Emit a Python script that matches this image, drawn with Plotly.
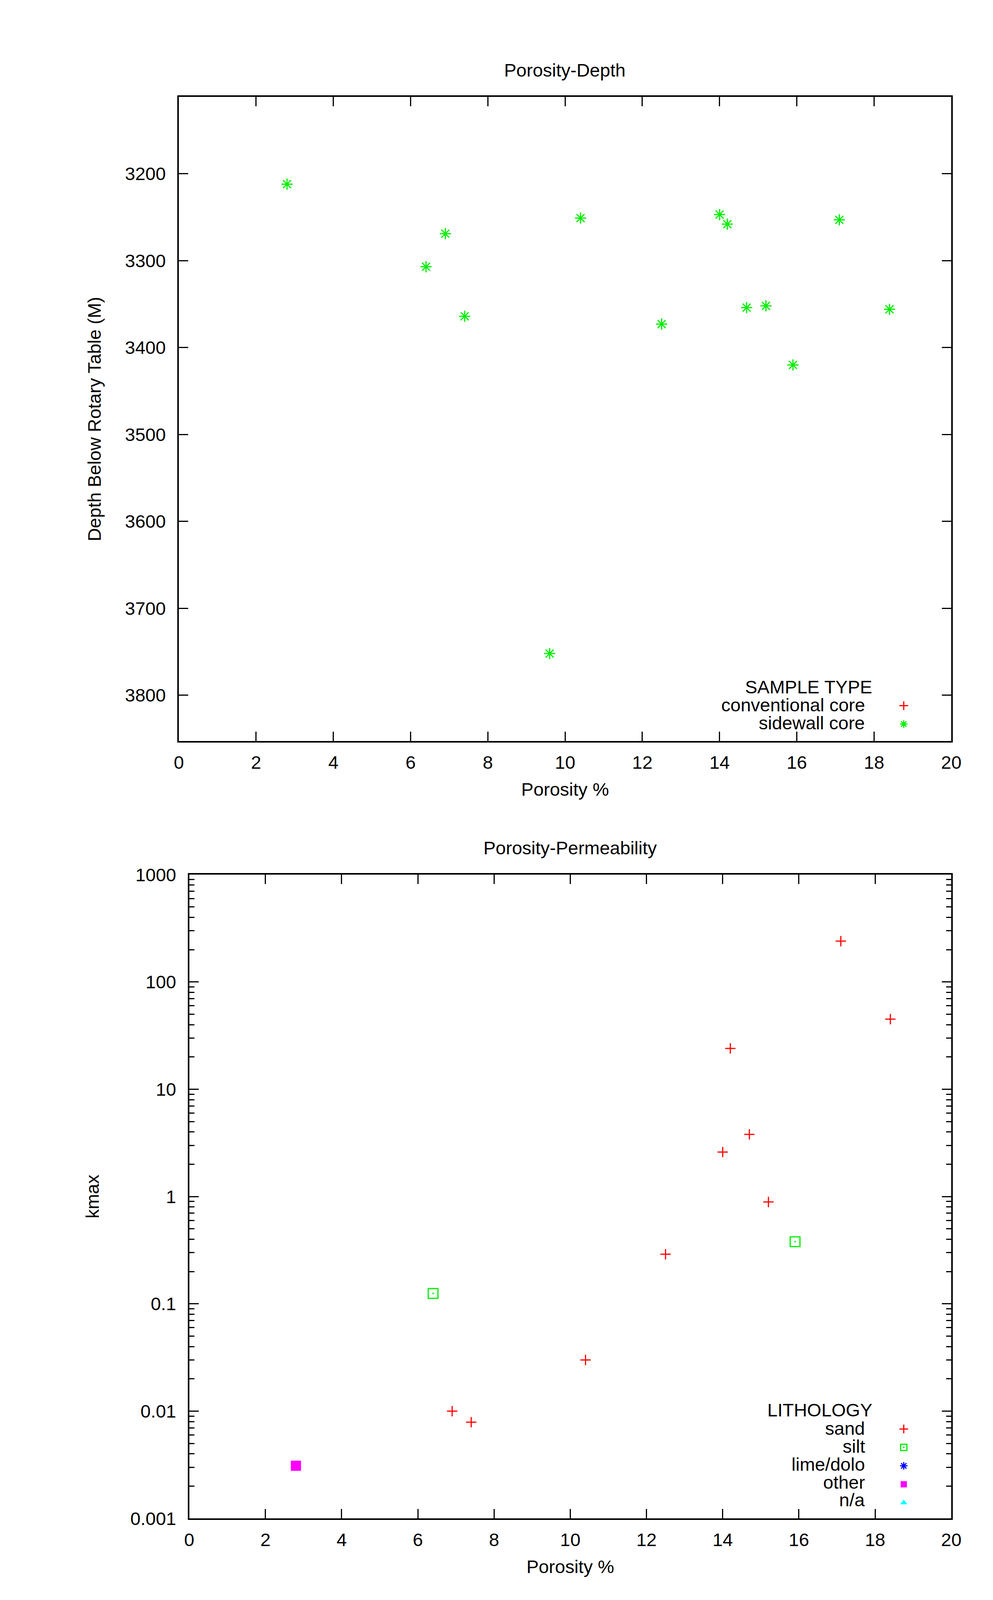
import plotly.graph_objects as go

# ---------------- data ----------------
# Porosity-Depth (sample type)
sidewall_porosity = [2.8, 6.4, 6.9, 7.4, 9.6, 10.4, 12.5, 14.0, 14.2, 14.7, 15.2, 15.9, 17.1, 18.4]
sidewall_depth = [3212, 3307, 3269, 3364, 3752, 3251, 3373, 3247, 3258, 3354, 3352, 3420, 3253, 3356]
conventional_porosity = [None]
conventional_depth = [None]

# Porosity-Permeability (lithology)
sand_porosity = [6.9, 7.4, 10.4, 12.5, 14.0, 14.2, 14.7, 15.2, 17.1, 18.4]
sand_kmax = [0.010, 0.0079, 0.030, 0.29, 2.6, 24.0, 3.8, 0.89, 240.0, 45.0]
silt_porosity = [6.4, 15.9]
silt_kmax = [0.125, 0.38]
lime_porosity = [None]
lime_kmax = [None]
other_porosity = [2.8]
other_kmax = [0.0031]
na_porosity = [None]
na_kmax = [None]

porosity_ticks = [0, 2, 4, 6, 8, 10, 12, 14, 16, 18, 20]
depth_ticks = [3200, 3300, 3400, 3500, 3600, 3700, 3800]
kmax_ticks = [0.001, 0.01, 0.1, 1, 10, 100, 1000]
kmax_labels = ["0.001", "0.01", "0.1", "1", "10", "100", "1000"]

# ---------------- page geometry ----------------
W, H = 2543, 4254
FONT = "Liberation Sans, Arial, sans-serif"
FS = 47

def px(x):
    return x / W

def py(y):
    return 1 - y / H

RED, GREEN, BLUE, MAGENTA, CYAN = "#ff0000", "#00ee00", "#0000ff", "#ff00ff", "#00ffff"

fig = go.Figure()

fig.add_trace(go.Scatter(x=conventional_porosity, y=conventional_depth, mode="markers", name=" ",
                         legend="legend", xaxis="x", yaxis="y",
                         hovertemplate="conventional core<extra></extra>",
                         marker=dict(symbol="cross-thin-open", size=19, color=RED,
                                     line=dict(color=RED, width=3))))
fig.add_trace(go.Scatter(x=sidewall_porosity, y=sidewall_depth, mode="markers", name=" ",
                         legend="legend", xaxis="x", yaxis="y",
                         hovertemplate="sidewall core<br>%{x}, %{y}<extra></extra>",
                         marker=dict(symbol="asterisk-open", size=24, color=GREEN,
                                     line=dict(color=GREEN, width=3))))

fig.add_trace(go.Scatter(x=sand_porosity, y=sand_kmax, mode="markers", name=" ",
                         legend="legend2", xaxis="x2", yaxis="y2",
                         hovertemplate="sand<br>%{x}, %{y}<extra></extra>",
                         marker=dict(symbol="cross-thin-open", size=19, color=RED,
                                     line=dict(color=RED, width=3))))
fig.add_trace(go.Scatter(x=silt_porosity, y=silt_kmax, mode="markers", name=" ",
                         legend="legend2", xaxis="x2", yaxis="y2",
                         hovertemplate="silt<br>%{x}, %{y}<extra></extra>",
                         marker=dict(symbol="square-open-dot", size=25, color=GREEN,
                                     line=dict(color=GREEN, width=3))))
fig.add_trace(go.Scatter(x=lime_porosity, y=lime_kmax, mode="markers", name=" ",
                         legend="legend2", xaxis="x2", yaxis="y2",
                         hovertemplate="lime/dolo<extra></extra>",
                         marker=dict(symbol="asterisk-open", size=24, color=BLUE,
                                     line=dict(color=BLUE, width=3))))
fig.add_trace(go.Scatter(x=other_porosity, y=other_kmax, mode="markers", name=" ",
                         legend="legend2", xaxis="x2", yaxis="y2",
                         hovertemplate="other<br>%{x}, %{y}<extra></extra>",
                         marker=dict(symbol="square", size=26, color=MAGENTA,
                                     line=dict(width=0))))
fig.add_trace(go.Scatter(x=na_porosity, y=na_kmax, mode="markers", name=" ",
                         legend="legend2", xaxis="x2", yaxis="y2",
                         hovertemplate="n/a<extra></extra>",
                         marker=dict(symbol="triangle-up", size=24, color=CYAN,
                                     line=dict(width=0))))

axis_common = dict(showline=True, linewidth=4, linecolor="black", mirror="allticks",
                   ticks="inside", ticklen=24, tickwidth=3, tickcolor="black",
                   showgrid=False, zeroline=False,
                   tickfont=dict(family=FONT, size=FS, color="black"))

fig.update_layout(
    width=W, height=H, margin=dict(l=0, r=0, t=0, b=0),
    paper_bgcolor="white", plot_bgcolor="white",
    font=dict(family=FONT, size=FS, color="black"),
    xaxis=dict(axis_common, domain=[px(452), px(2461)], anchor="y",
               range=[0, 20], tickmode="array", tickvals=porosity_ticks,
               ticklabelstandoff=10,
               title=dict(text="Porosity %", standoff=28, font=dict(family=FONT, size=FS))),
    yaxis=dict(axis_common, domain=[py(1894), py(224)], anchor="x",
               range=[3852.8, 3111.7], tickmode="array", tickvals=depth_ticks,
               ticklabelstandoff=20,
               title=dict(text="Depth Below Rotary Table (M)", standoff=48,
                          font=dict(family=FONT, size=FS))),
    xaxis2=dict(axis_common, domain=[px(479), px(2461)], anchor="y2",
                range=[0, 20], tickmode="array", tickvals=porosity_ticks,
                ticklabelstandoff=10,
                title=dict(text="Porosity %", standoff=28, font=dict(family=FONT, size=FS))),
    yaxis2=dict(axis_common, domain=[py(3909), py(2240)], anchor="x2",
                type="log", range=[-3, 3], tickmode="array", tickvals=kmax_ticks,
                ticktext=kmax_labels, ticklabelstandoff=20,
                minor=dict(ticks="inside", ticklen=13, tickwidth=3, tickcolor="black",
                           dtick="D1", showgrid=False),
                title=dict(text="kmax", standoff=66, font=dict(family=FONT, size=FS))),
    legend=dict(x=px(2317), xanchor="left", y=py(1773), yanchor="top",
                bgcolor="rgba(0,0,0,0)", borderwidth=0,
                font=dict(family=FONT, size=34), itemwidth=30,
                tracegroupgap=0),
    legend2=dict(x=px(2317), xanchor="left", y=py(3648), yanchor="top",
                 bgcolor="rgba(0,0,0,0)", borderwidth=0,
                 font=dict(family=FONT, size=34), itemwidth=30,
                 tracegroupgap=0),
    showlegend=True,
)

annotations = [
    dict(text="Porosity-Depth", x=px(1456), y=py(154), xref="paper", yref="paper",
         xanchor="center", yanchor="middle", showarrow=False),
    dict(text="Porosity-Permeability", x=px(1470), y=py(2171), xref="paper", yref="paper",
         xanchor="center", yanchor="middle", showarrow=False),
]

legend1_text = ["SAMPLE TYPE", "conventional core", "sidewall core"]
legend1_rows = [1753, 1800, 1847]
legend1_right = [2258, 2238, 2238]
for t, yy, xr in zip(legend1_text, legend1_rows, legend1_right):
    annotations.append(dict(text=t, x=px(xr), y=py(yy), xref="paper", yref="paper",
                            xanchor="right", yanchor="middle", showarrow=False))

legend2_text = ["LITHOLOGY", "sand", "silt", "lime/dolo", "other", "n/a"]
legend2_rows = [3628, 3675, 3722, 3768, 3815, 3861]
legend2_right = [2258, 2238, 2238, 2238, 2238, 2238]
for t, yy, xr in zip(legend2_text, legend2_rows, legend2_right):
    annotations.append(dict(text=t, x=px(xr), y=py(yy), xref="paper", yref="paper",
                            xanchor="right", yanchor="middle", showarrow=False))

fig.update_layout(annotations=annotations)

fig.write_html("out.html", config={"displayModeBar": False},
               post_script="document.body.style.margin='0';document.body.style.overflow='hidden';")
